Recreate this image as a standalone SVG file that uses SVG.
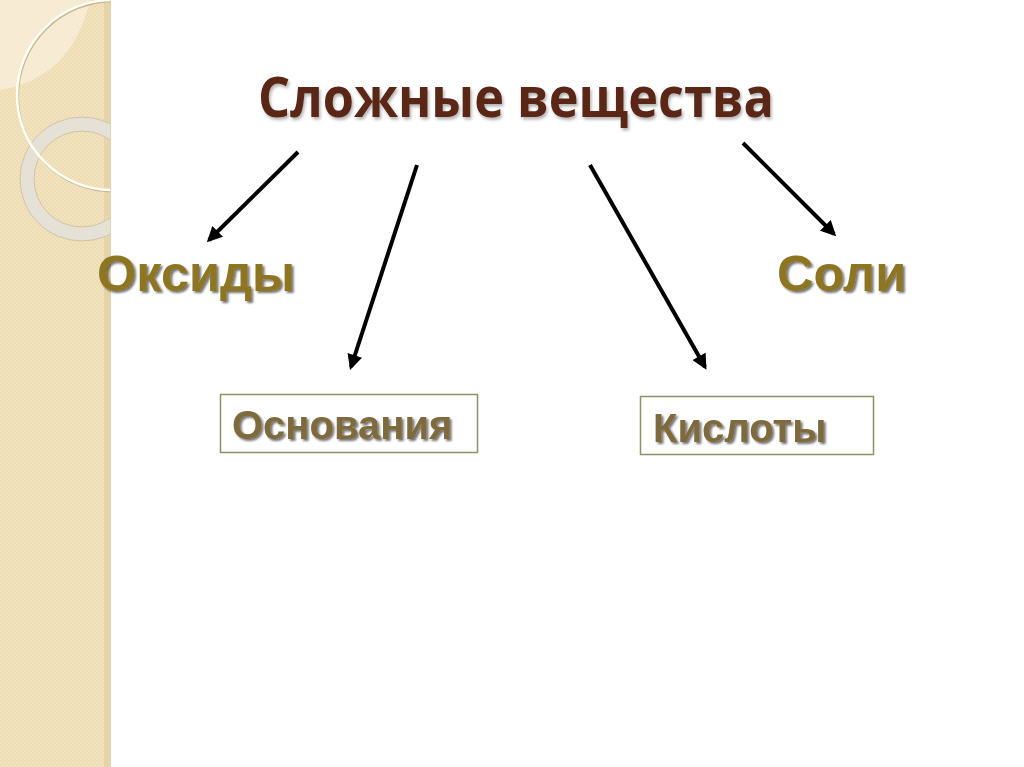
<svg xmlns="http://www.w3.org/2000/svg" width="1024" height="767" viewBox="0 0 1024 767">
<style>
.title{font-family:"Open Sans","Liberation Sans",sans-serif;font-weight:bold;font-size:55px;fill:#5a2518}
.big{font-family:"Liberation Sans",Arial,sans-serif;font-weight:bold;font-size:50.5px;fill:#8d7424}
.box{fill:#ffffff;stroke:#8f9264;stroke-width:1.5}
.boxtxt{font-family:"Liberation Sans",Arial,sans-serif;font-weight:bold;font-size:40px;fill:#7e6a3c}
.arrow{stroke:#000;stroke-width:4;fill:none;marker-end:url(#ah)}
</style>
<defs>
<marker id="ah" viewBox="0 0 10 10" refX="8" refY="5" markerWidth="4" markerHeight="3.8" orient="auto" markerUnits="strokeWidth">
<path d="M0,0 L10,5 L0,10 Z" fill="#000"/>
</marker>
<filter id="sh" x="-10%" y="-20%" width="130%" height="150%">
<feDropShadow dx="2" dy="2" stdDeviation="1" flood-color="#000" flood-opacity="0.55"/>
</filter>
<filter id="sh2" x="-10%" y="-20%" width="130%" height="150%">
<feDropShadow dx="1.5" dy="2.5" stdDeviation="1.5" flood-color="#000" flood-opacity="0.3"/>
</filter>
<clipPath id="panel"><rect x="0" y="0" width="110" height="767"/></clipPath>
<pattern id="chk" width="4" height="4" patternUnits="userSpaceOnUse">
<rect width="4" height="4" fill="#f2e3bf"/>
<rect width="2" height="2" fill="#eedcb4"/>
<rect x="2" y="2" width="2" height="2" fill="#eedcb4"/>
</pattern>
</defs>
<rect width="1024" height="767" fill="#ffffff"/>
<g id="panel-bg">
<rect x="0" y="0" width="110" height="767" fill="url(#chk)"/>
<rect x="104" y="0" width="7" height="767" fill="#e6d5ab"/>
<g clip-path="url(#panel)">
<path d="M0,0 L90,0 Q72,78 0,90 Z" fill="#f8efd9" opacity="0.8"/>
<circle cx="82" cy="179" r="55" fill="none" stroke="#e6e1d6" stroke-width="14"/>
<circle cx="82" cy="179" r="62" fill="none" stroke="#cfc3a8" stroke-width="1"/>
<circle cx="82" cy="179" r="48" fill="none" stroke="#cfc3a8" stroke-width="1"/>
<circle cx="112" cy="95" r="95" fill="none" stroke="#c9b894" stroke-width="2" transform="translate(1,1.5)"/>
<circle cx="112" cy="95" r="95" fill="none" stroke="#fffdf6" stroke-width="2.5"/>
</g>
</g>
<g id="title">
<text class="title" x="516" y="117" text-anchor="middle" filter="url(#sh2)" textLength="516" lengthAdjust="spacingAndGlyphs">Сложные вещества</text>
</g>
<g id="oxides">
<text class="big" x="97" y="291" filter="url(#sh)">Оксиды</text>
</g>
<g id="salts">
<text class="big" x="777" y="291" filter="url(#sh)">Соли</text>
</g>
<g id="bases">
<rect class="box" x="220.5" y="394.5" width="257" height="58"/>
<text class="boxtxt" x="232" y="439" filter="url(#sh)">Основания</text>
</g>
<g id="acids">
<rect class="box" x="640.5" y="396.5" width="233" height="58"/>
<text class="boxtxt" x="653" y="442" filter="url(#sh)">Кислоты</text>
</g>
<g id="connectors">
<line class="arrow" x1="298" y1="152" x2="209" y2="240"/>
<line class="arrow" x1="417" y1="165" x2="351" y2="367"/>
<line class="arrow" x1="590" y1="165" x2="705" y2="367"/>
<line class="arrow" x1="743" y1="143" x2="834" y2="234"/>
</g>
</svg>
